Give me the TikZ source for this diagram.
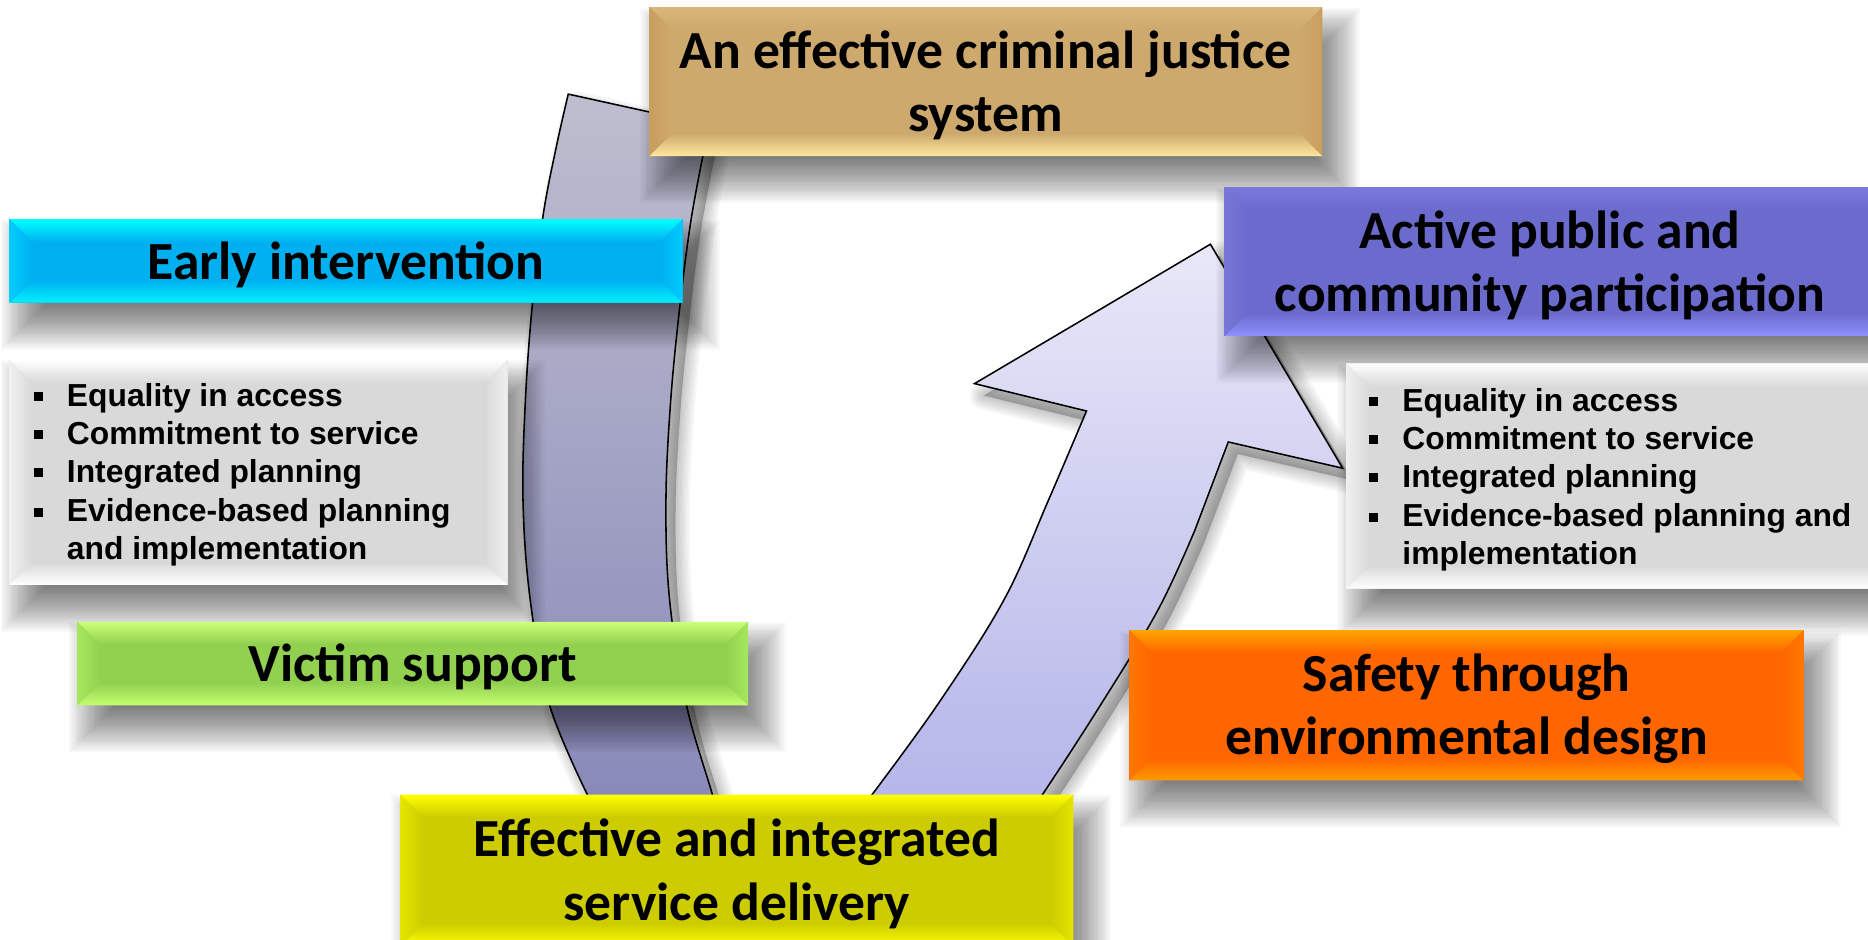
\documentclass[tikz,border=0pt]{standalone}
\usepackage{fontspec}
\newfontfamily\calfont{Carlito}
\newfontfamily\arfont{Liberation Sans}
\definecolor{bandtop}{HTML}{BEBECF}
\definecolor{bandbot}{HTML}{8585B8}
\definecolor{arrtop}{HTML}{E8E8F8}
\definecolor{arrbot}{HTML}{B0B0E8}
\definecolor{tanbase}{HTML}{CDA96E}
\definecolor{tantop}{HTML}{D8B67A}
\definecolor{tanbot}{HTML}{FFE8A0}
\definecolor{tanside}{HTML}{C99E5E}
\definecolor{cybase}{HTML}{00B0F0}
\definecolor{cytop}{HTML}{00FFFF}
\definecolor{cybot}{HTML}{00F0FF}
\definecolor{cyside}{HTML}{00CCFF}
\definecolor{grbase}{HTML}{D9D9D9}
\definecolor{grtop}{HTML}{FFFFFF}
\definecolor{grside}{HTML}{F0F0F0}
\definecolor{gnbase}{HTML}{92D050}
\definecolor{gntop}{HTML}{CCFF77}
\definecolor{gnbot}{HTML}{C4FF70}
\definecolor{gnside}{HTML}{A6E85C}
\definecolor{yebase}{HTML}{CCCC00}
\definecolor{yetop}{HTML}{FFFF00}
\definecolor{yeside}{HTML}{E6E600}
\definecolor{orbase}{HTML}{FF6600}
\definecolor{ortop}{HTML}{FFA500}
\definecolor{orbot}{HTML}{FF9A00}
\definecolor{orside}{HTML}{FF7800}
\definecolor{pubase}{HTML}{6B6BCD}
\definecolor{putop}{HTML}{7A7ADC}
\definecolor{pubot}{HTML}{9090FF}
\definecolor{puside}{HTML}{7777D8}
\pgfdeclarelayer{back}
\pgfdeclarelayer{shadowlayer}
\pgfsetlayers{back,shadowlayer,main}
\newcommand\bevelbox[6]{%
  \shade[top color=#3, bottom color=#2] (#1.north west) -- (#1.north east) -- ([xshift=-#6 pt,yshift=-#6 pt]#1.north east) -- ([xshift=#6 pt,yshift=-#6 pt]#1.north west) -- cycle;
  \shade[top color=#2, bottom color=#4] (#1.south west) -- (#1.south east) -- ([xshift=-#6 pt,yshift=#6 pt]#1.south east) -- ([xshift=#6 pt,yshift=#6 pt]#1.south west) -- cycle;
  \shade[left color=#5, right color=#2] (#1.north west) -- ([xshift=#6 pt,yshift=-#6 pt]#1.north west) -- ([xshift=#6 pt,yshift=#6 pt]#1.south west) -- (#1.south west) -- cycle;
  \shade[left color=#2, right color=#5] (#1.north east) -- ([xshift=-#6 pt,yshift=-#6 pt]#1.north east) -- ([xshift=-#6 pt,yshift=#6 pt]#1.south east) -- (#1.south east) -- cycle;
}
\newcommand\softshadow[1]{%
  \begin{pgfonlayer}{shadowlayer}
  \foreach \k in {-18,-16.5,...,20}{
    \fill[black, opacity=0.025] ([xshift={(12-(\k))*1pt}, yshift={(-20+(\k))*1pt}]#1.north west) rectangle ([xshift={(12+(\k))*1pt}, yshift={(-20-(\k))*1pt}]#1.south east);
  }
  \end{pgfonlayer}}
\def\bandpath{(477,79) -- (595,105) -- plot[smooth, tension=0.6] coordinates {(590,131) (580,185) (571,254) (563,336) (559,420) (562,503) (576,591) (598,667) (613,720)}
  -- (515,720) -- plot[smooth, tension=0.6] coordinates {(493,667) (461,591) (445,503) (439,420) (441,336) (447,254) (456,180) (467,123) (477,79)} -- cycle}
\def\arrpath{(692,720) -- plot[smooth, tension=0.6] coordinates {(732,667) (788,590) (843,503) (880,420) (912,345)}
  -- (818,322) -- (1016,205) -- (1127,393) -- (1031,371)
  -- plot[smooth, tension=0.6] coordinates {(1003,445) (972,512) (923,593) (875,667) (838,720)} -- cycle}
\tikzset{
  box/.style={anchor=north west, inner sep=0pt, outer sep=0pt},
  ttl/.style={font=\calfont\bfseries\fontsize{45}{53}\selectfont, align=center, inner sep=0pt, text=black, yshift=-3pt},
  btx/.style={font=\arfont\bfseries\fontsize{26.7}{32}\selectfont, anchor=base west, inner sep=0pt, text=black},
  bul/.style={fill=black, minimum size=7.5pt, inner sep=0pt},
  arrowshape/.style={draw=black, line width=1.3pt, line join=miter},
  ashadow/.style={fill=black, draw=black, opacity=0.035, line join=round, shift={(8,10)}}
}
\begin{document}
\begin{tikzpicture}[x=1pt, y=-1pt]
\useasboundingbox (0,0) rectangle (1568,789);
\begin{pgfonlayer}{back}
\fill[white] (0,0) rectangle (1568,789);
% shadows of the arrows
\foreach \w in {24,20,16,12,8,4,1}{
  \path[ashadow, line width=\w pt] \bandpath;
  \path[ashadow, line width=\w pt] \arrpath;
}
% left curved band
\path[arrowshape, top color=bandtop, bottom color=bandbot] \bandpath;
% right curved arrow
\path[arrowshape, top color=arrtop, bottom color=arrbot] \arrpath;
\end{pgfonlayer}
% boxes
\node[box, fill=tanbase, minimum width=565pt, minimum height=125pt] (tan) at (545,6) {};
\softshadow{tan}
\bevelbox{tan}{tanbase}{tantop}{tanbot}{tanside}{19}
\node[ttl] (tant) at (tan.center) {An effective criminal justice\\system};

\node[box, fill=cybase, minimum width=565pt, minimum height=70pt] (cy) at (8,184) {};
\softshadow{cy}
\bevelbox{cy}{cybase}{cytop}{cybot}{cyside}{19}
\node[ttl] (cyt) at (cy.center) {Early intervention};

\node[box, fill=grbase, minimum width=418pt, minimum height=189pt] (gl) at (8,302) {};
\softshadow{gl}
\bevelbox{gl}{grbase}{grtop}{grtop}{grside}{19}
\foreach \i/\yy/\txt in {1/341/Equality in access, 2/373/Commitment to service, 3/405/Integrated planning, 4/438/Evidence-based planning}{
  \node[bul] (lb\i) at (32,\yy-8) {};
  \node[btx] (lt\i) at (56,\yy) {\txt};
}
\node[btx] (lt5) at (56,470) {and implementation};

\node[box, fill=gnbase, minimum width=563pt, minimum height=70pt] (gn) at (65,522) {};
\softshadow{gn}
\bevelbox{gn}{gnbase}{gntop}{gnbot}{gnside}{19}
\node[ttl] (gnt) at (gn.center) {Victim support};

\node[box, fill=yebase, minimum width=565pt, minimum height=127pt] (ye) at (336,667) {};
\softshadow{ye}
\bevelbox{ye}{yebase}{yetop}{yetop}{yeside}{19}
\node[ttl] (yet) at (ye.center) {Effective and integrated\\service delivery};

\node[box, fill=pubase, minimum width=562pt, minimum height=125pt] (pu) at (1028,157) {};
\softshadow{pu}
\bevelbox{pu}{pubase}{putop}{pubot}{puside}{19}
\node[ttl] (put) at ([xshift=-8pt]pu.center) {Active public and\\community participation};

\node[box, fill=grbase, minimum width=460pt, minimum height=189pt] (gr) at (1130,305) {};
\softshadow{gr}
\bevelbox{gr}{grbase}{grtop}{grtop}{grside}{19}
\foreach \i/\yy/\txt in {1/345/Equality in access, 2/377/Commitment to service, 3/409/Integrated planning, 4/442/Evidence-based planning and}{
  \node[bul] (rb\i) at (1153,\yy-8) {};
  \node[btx] (rt\i) at (1177,\yy) {\txt};
}
\node[btx] (rt5) at (1177,474) {implementation};

\node[box, fill=orbase, minimum width=566pt, minimum height=126pt] (or) at (948,529) {};
\softshadow{or}
\bevelbox{or}{orbase}{ortop}{orbot}{orside}{19}
\node[ttl] (ort) at (or.center) {Safety through\\environmental design};
\end{tikzpicture}
\end{document}
